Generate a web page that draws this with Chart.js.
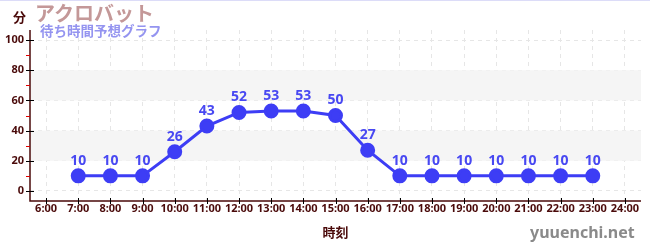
<!DOCTYPE html>
<html><head><meta charset="utf-8">
<script src="https://cdn.jsdelivr.net/npm/chart.js@4/dist/chart.umd.min.js"></script>
<style>
html,body{margin:0;padding:0;background:#fff;}
#wrap{position:relative;width:650px;height:250px;border-top:1px solid #dcdcf8;box-sizing:border-box;}
canvas{position:absolute;left:0;top:0;}
.t{position:absolute;white-space:nowrap;font-family:"Noto Sans CJK JP",sans-serif;font-weight:bold;line-height:1;}
</style></head>
<body>
<div id="wrap">
<canvas id="c" width="650" height="249"></canvas>
<div class="t" style="left:35px;top:2px;font-size:20px;color:#c49898;">アクロバット</div>
<div class="t" style="left:40px;top:23px;font-size:13.5px;color:#9494f0;">待ち時間予想グラフ</div>
<div class="t" style="left:13px;top:9px;font-size:13px;color:#4a0a0a;">分</div>
<div class="t" style="left:530px;top:223px;font-size:16px;color:#8a8a8a;font-family:'Noto Sans',sans-serif;">yuuenchi.net</div>
</div>
<script>
const hours = [7,8,9,10,11,12,13,14,15,16,17,18,19,20,21,22,23];
const waits = [10,10,10,26,43,52,53,53,50,27,10,10,10,10,10,10,10];
const xTicks = [6,7,8,9,10,11,12,13,14,15,16,17,18,19,20,21,22,23,24];
const yTicks = [0,20,40,60,80,100];
const yMinor = [10,30,50,70,90];
const bands = [[20,40],[60,80]];

const maroon = '#4a0a0a';
const blue = '#3d3df5';

const deco = {
  id:'deco',
  beforeDatasetsDraw(chart){
    const {ctx, chartArea:a, scales:{x,y}} = chart;
    ctx.save();
    ctx.fillStyle = '#f5f5f5';
    bands.forEach(([lo,hi])=>{
      const y1 = y.getPixelForValue(hi), y2 = y.getPixelForValue(lo);
      ctx.fillRect(a.left, y1, a.right-a.left, y2-y1);
    });
    ctx.restore();
  },
  afterDraw(chart){
    const {ctx, chartArea:a, scales:{x,y}} = chart;
    ctx.save();
    ctx.strokeStyle = maroon; ctx.lineWidth = 1.5;
    ctx.beginPath();
    ctx.moveTo(a.left, a.top); ctx.lineTo(a.left, a.bottom); ctx.lineTo(a.right, a.bottom);
    ctx.stroke();
    ctx.strokeStyle = '#000'; ctx.lineWidth = 1;
    yTicks.forEach(v=>{
      const py = Math.round(y.getPixelForValue(v))+0.5;
      ctx.beginPath(); ctx.moveTo(a.left-4, py); ctx.lineTo(a.left+4, py); ctx.stroke();
    });
    ctx.strokeStyle = '#e00000';
    yMinor.forEach(v=>{
      const py = Math.round(y.getPixelForValue(v))+0.5;
      ctx.beginPath(); ctx.moveTo(a.left-4, py); ctx.lineTo(a.left, py); ctx.stroke();
    });
    ctx.strokeStyle = '#000';
    xTicks.forEach(v=>{
      const px = Math.round(x.getPixelForValue(v))+0.5;
      ctx.beginPath(); ctx.moveTo(px, a.bottom-3); ctx.lineTo(px, a.bottom+3); ctx.stroke();
    });
    ctx.fillStyle = '#4848f2';
    ctx.font = 'bold 14px "Noto Sans", sans-serif';
    ctx.textAlign = 'center'; ctx.textBaseline = 'bottom';
    const meta = chart.getDatasetMeta(0);
    meta.data.forEach((pt,i)=>{
      ctx.fillText(String(waits[i]), pt.x, pt.y - 8);
    });
    ctx.restore();
  }
};

new Chart(document.getElementById('c'), {
  type:'line',
  data:{ datasets:[{
    data: hours.map((h,i)=>({x:h, y:waits[i]})),
    borderColor: blue, backgroundColor: blue,
    borderWidth: 3, pointRadius: 6, pointHoverRadius: 6,
    pointBackgroundColor: blue, pointBorderColor: blue, tension: 0
  }]},
  options:{
    responsive:false, animation:false,
    layout:{padding:{left:0,right:9,top:29,bottom:0}},
    plugins:{legend:{display:false}, tooltip:{enabled:false}},
    scales:{
      x:{ type:'linear', min:5.5, max:24.5,
        afterBuildTicks(s){ s.ticks = xTicks.map(v=>({value:v})); },
        afterFit(s){ s.height = 49; },
        ticks:{ callback:v=>v+':00', color:maroon, font:{size:11, weight:'bold', family:'"Noto Sans", sans-serif'}, padding:1, maxRotation:0, autoSkip:false },
        grid:{ color:'#e6e6e6', drawTicks:false },
        border:{ display:false, dash:[4,4] },
        title:{ display:true, text:'時刻', color:maroon, font:{size:13, weight:'bold', family:'"Noto Sans CJK JP", sans-serif'}, padding:{top:4,bottom:10} }
      },
      y:{ type:'linear', min:-6.67, max:106.67,
        afterBuildTicks(s){ s.ticks = yTicks.map(v=>({value:v})); },
        afterFit(s){ s.width = 30; },
        ticks:{ color:maroon, font:{size:11, weight:'bold', family:'"Noto Sans", sans-serif'}, padding:6 },
        grid:{ color:'#e6e6e6', drawTicks:false },
        border:{ display:false, dash:[4,4] }
      }
    }
  },
  plugins:[deco]
});
</script>
</body></html>
